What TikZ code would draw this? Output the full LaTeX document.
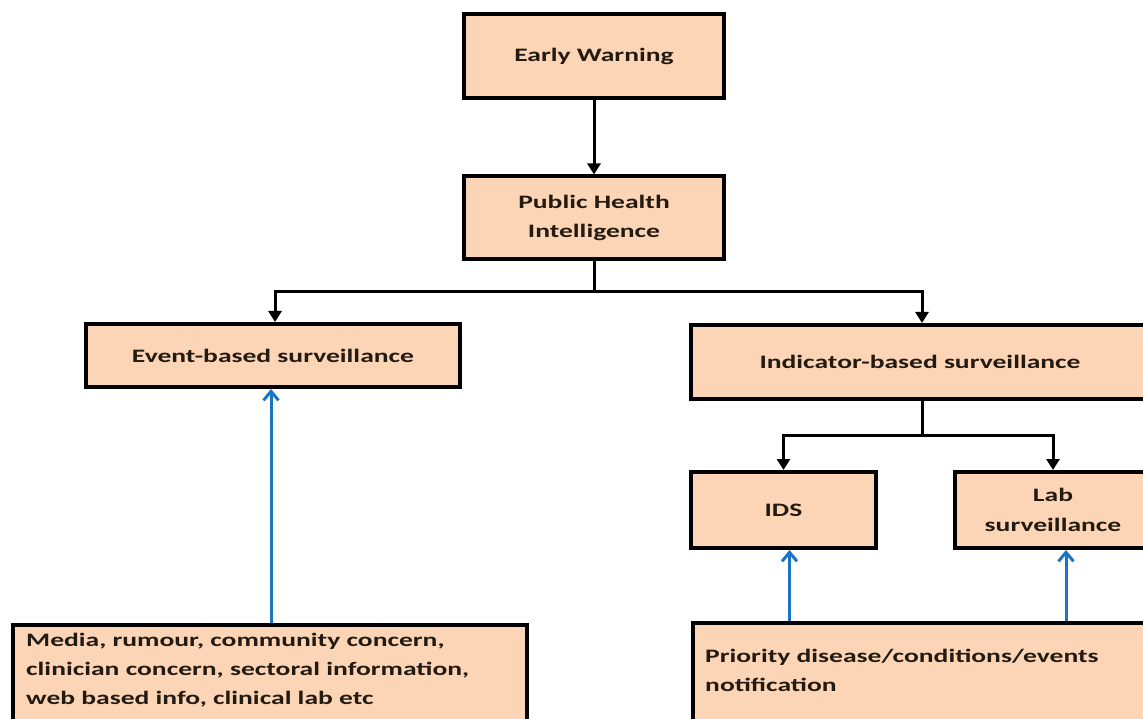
\documentclass[tikz,border=0pt]{standalone}
\usepackage{fontspec}
\setmainfont{Carlito}[FakeStretch=1.45]
\usetikzlibrary{arrows.meta,calc}
\definecolor{peach}{HTML}{FBD5B5}
\definecolor{txt}{HTML}{231A12}
\definecolor{blu}{HTML}{1A75C4}
\tikzset{
  box/.style={draw=black, line width=4pt, fill=peach, text=txt, inner sep=0pt,
    font=\fontsize{19}{29.5}\selectfont\bfseries, align=center},
  plain/.style={text=txt, inner sep=0pt, anchor=north west, align=left,
    font=\fontsize{19}{28.8}\selectfont\bfseries},
  arr/.style={draw=black, line width=3pt, -{Triangle[width=13pt,length=11pt]}},
  bluarr/.style={draw=blu, line width=3pt, -{Straight Barb[width=15pt,length=9pt,line width=3pt]}}
}
\begin{document}
\begin{tikzpicture}[x=1pt,y=-1pt]
\useasboundingbox (0,0) rectangle (1143,719);
\clip (0,0) rectangle (1143,719);
\fill[white] (0,0) rectangle (1143,719);

\node[box, minimum width=260pt, minimum height=84pt] (ew) at (594,56) {Early Warning};
\node[box, minimum width=260pt, minimum height=83pt] (phi) at (594,218) {Public Health\\Intelligence};
\node[box, minimum width=374pt, minimum height=63pt] (ebs) at (273,355.5) {Event-based surveillance};
\node[box, minimum width=458pt, minimum height=74pt] (ibs) at (920,362) {Indicator-based surveillance};
\node[box, minimum width=185pt, minimum height=76pt] (ids) at (783.5,510) {IDS};
\node[box, minimum width=196pt, minimum height=76pt] (lab) at (1053,510) {Lab\\surveillance};
\node[box, anchor=north west, minimum width=514pt, minimum height=122pt] (media) at (11,623) {};
\node[box, anchor=north west, minimum width=460pt, minimum height=122pt] (prio) at (691,621) {};
\node[plain] (mediatxt) at (26,633)
  {Media, rumour, community concern,\\clinician concern, sectoral information,\\web based info, clinical lab etc};
\node[plain] (priotxt) at (705,649)
  {Priority disease/conditions/events\\notification};

\draw[arr] (ew.south) -- (phi.north);
\draw[arr] (phi.south) -- ++(0,30) -| ([xshift=2pt]ebs.north);
\draw[arr] (phi.south) -- ++(0,30) -| ([xshift=2pt]ibs.north);
\draw[arr] ([xshift=2pt]ibs.south) -- ++(0,34) -| (ids.north);
\draw[arr] ([xshift=2pt]ibs.south) -- ++(0,34) -| (lab.north);

\draw[bluarr] ([xshift=-2pt]ebs.south |- media.north) -- ([xshift=-2pt]ebs.south);
\draw[bluarr] ([xshift=6pt]ids.south |- prio.north) -- ([xshift=6pt]ids.south);
\draw[bluarr] ([xshift=13pt]lab.south |- prio.north) -- ([xshift=13pt]lab.south);
\end{tikzpicture}
\end{document}
